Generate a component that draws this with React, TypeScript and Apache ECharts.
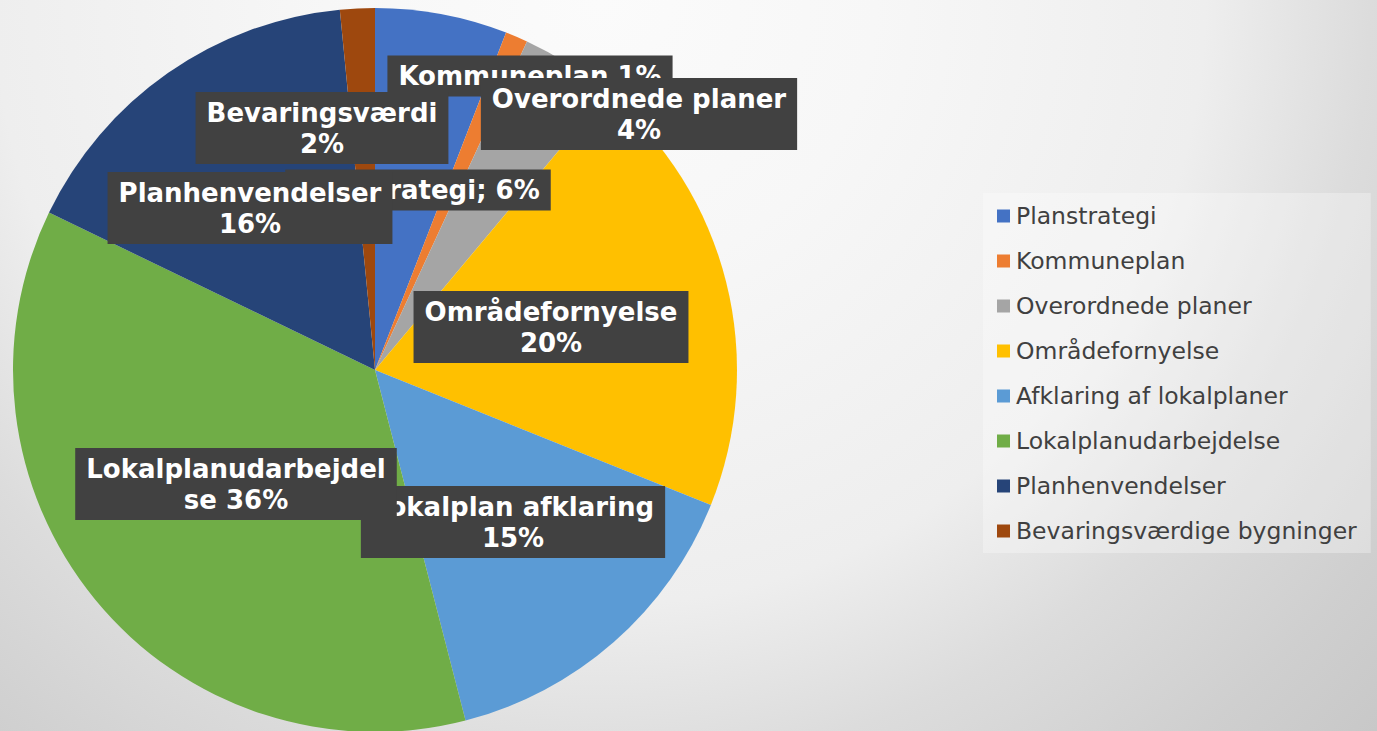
import React, { useEffect, useRef } from "react";
import * as echarts from "echarts";

const categories = [
  "Planstrategi",
  "Kommuneplan",
  "Overordnede planer",
  "Områdefornyelse",
  "Afklaring af lokalplaner",
  "Lokalplanudarbejdelse",
  "Planhenvendelser",
  "Bevaringsværdige bygninger",
];
const values = [5.9, 1.0, 4.2, 20.0, 14.9, 36.2, 16.3, 1.55];
const labelPrefixes = [
  "Planstrategi; ",
  "Kommuneplan ",
  "Overordnede planer\n",
  "Områdefornyelse\n",
  "Lokalplan afklaring\n",
  "Lokalplanudarbejdel\nse ",
  "Planhenvendelser\n",
  "Bevaringsværdi\n",
];
const colors = ["#4472C4", "#ED7D31", "#A5A5A5", "#FFC000", "#5B9BD5", "#70AD47", "#264478", "#9E480E"];

// label box centres (layout)
const labelCenters: [number, number][] = [
  [418, 190],
  [530, 76],
  [639, 114],
  [551, 327],
  [513, 522],
  [236, 484],
  [250, 208],
  [322, 128],
];

export default function App() {
  const ref = useRef<HTMLDivElement>(null);
  useEffect(() => {
    document.body.style.margin = "0";
    const chart = echarts.init(ref.current!, null, { renderer: "svg" });
    chart.setOption({
      animation: false,
      graphic: [
        {
          type: "rect",
          z: -10,
          silent: true,
          shape: { x: 0, y: 0, width: 1377, height: 731 },
          style: {
            fill: new echarts.graphic.RadialGradient(
              600,
              0,
              1100,
              [
                { offset: 0, color: "#fbfbfb" },
                { offset: 0.25, color: "#f7f7f7" },
                { offset: 0.55, color: "#eeeeee" },
                { offset: 0.7, color: "#dcdcdc" },
                { offset: 0.86, color: "#cfcfcf" },
                { offset: 1, color: "#c6c6c6" },
              ],
              true
            ),
          },
        },
      ],
      legend: {
        orient: "vertical",
        left: 983,
        top: 193,
        padding: [11, 14, 10, 14],
        backgroundColor: "rgba(255,255,255,0.3)",
        itemWidth: 13,
        itemHeight: 13,
        itemGap: 21,
        icon: "rect",
        data: categories,
        textStyle: {
          fontFamily: "DejaVu Sans",
          fontSize: 23.5,
          lineHeight: 24,
          color: "#404040",
          padding: [0, 0, 0, 1],
        },
      },
      series: [
        {
          type: "pie",
          center: [375, 370],
          radius: 362,
          startAngle: 90,
          clockwise: true,
          color: colors,
          data: categories.map((c, i) => ({ name: c, value: values[i] })),
          label: {
            show: true,
            position: "inside",
            formatter: (p: any) => labelPrefixes[p.dataIndex] + Math.round(p.percent) + "%",
            color: "#ffffff",
            fontFamily: "DejaVu Sans",
            fontWeight: "bold",
            fontSize: 26,
            lineHeight: 31,
            align: "center",
            backgroundColor: "#414141",
            padding: [5, 11],
          },
          labelLine: { show: false },
          labelLayout: (p: any) => ({
            x: labelCenters[p.dataIndex][0],
            y: labelCenters[p.dataIndex][1],
            align: "center",
            verticalAlign: "middle",
            hideOverlap: false,
          }),
          emphasis: { disabled: true },
        },
      ],
    });
    return () => chart.dispose();
  }, []);
  return <div ref={ref} style={{ width: 1377, height: 731 }} />;
}
